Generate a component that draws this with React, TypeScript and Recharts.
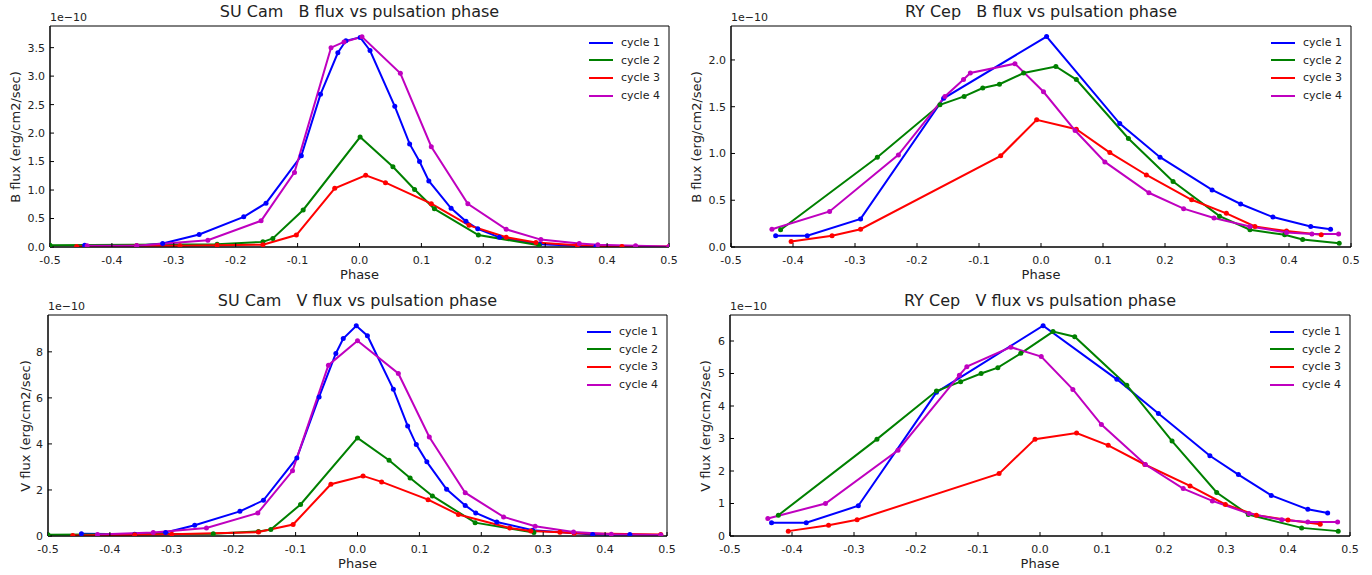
import { LineChart, Line, XAxis, YAxis, ReferenceArea } from 'recharts';

type Pt = [number, number];

const cycleNames = ['cycle 1', 'cycle 2', 'cycle 3', 'cycle 4'];
const cycleColors = ['#0000ff', '#008000', '#ff0000', '#bf00bf'];
const phaseTicks = [-0.5, -0.4, -0.3, -0.2, -0.1, 0, 0.1, 0.2, 0.3, 0.4, 0.5];

// flux values in units of 1e-10 erg/cm2/sec, [phase, flux]
const suCamB1: Pt[] = [[-0.444, 0.03], [-0.36, 0.02], [-0.318, 0.06], [-0.259, 0.22], [-0.187, 0.53], [-0.151, 0.77], [-0.094, 1.6], [-0.063, 2.68], [-0.035, 3.41], [-0.022, 3.62], [0.001, 3.68], [0.017, 3.45], [0.057, 2.47], [0.081, 1.81], [0.097, 1.5], [0.112, 1.16], [0.148, 0.68], [0.172, 0.45], [0.191, 0.32], [0.226, 0.17], [0.291, 0.05], [0.382, 0.01]];
const suCamB2: Pt[] = [[-0.5, 0.03], [-0.23, 0.05], [-0.156, 0.09], [-0.14, 0.15], [-0.091, 0.65], [0.001, 1.93], [0.054, 1.41], [0.089, 1.01], [0.121, 0.67], [0.192, 0.21], [0.29, 0.03]];
const suCamB3: Pt[] = [[-0.457, 0.01], [-0.36, 0.02], [-0.29, 0.02], [-0.23, 0.03], [-0.156, 0.04], [-0.102, 0.21], [-0.04, 1.03], [0.01, 1.26], [0.042, 1.13], [0.116, 0.76], [0.177, 0.38], [0.237, 0.17], [0.285, 0.08], [0.352, 0.03], [0.424, 0.01], [0.5, 0.01]];
const suCamB4: Pt[] = [[-0.44, 0.02], [-0.36, 0.02], [-0.245, 0.12], [-0.159, 0.46], [-0.105, 1.31], [-0.046, 3.5], [-0.025, 3.6], [0.004, 3.69], [0.066, 3.05], [0.116, 1.76], [0.175, 0.76], [0.237, 0.31], [0.293, 0.13], [0.355, 0.06], [0.385, 0.04], [0.446, 0.02], [0.5, 0.01]];

const ryCepB1: Pt[] = [[-0.428, 0.12], [-0.377, 0.12], [-0.291, 0.3], [-0.157, 1.59], [0.009, 2.25], [0.127, 1.32], [0.192, 0.96], [0.276, 0.61], [0.322, 0.46], [0.374, 0.32], [0.435, 0.22], [0.467, 0.19]];
const ryCepB2: Pt[] = [[-0.42, 0.185], [-0.264, 0.96], [-0.163, 1.52], [-0.124, 1.61], [-0.094, 1.7], [-0.067, 1.74], [-0.028, 1.86], [0.024, 1.93], [0.057, 1.79], [0.141, 1.16], [0.213, 0.7], [0.288, 0.33], [0.337, 0.185], [0.393, 0.13], [0.422, 0.08], [0.481, 0.04]];
const ryCepB3: Pt[] = [[-0.403, 0.06], [-0.337, 0.12], [-0.291, 0.19], [-0.065, 0.975], [-0.007, 1.36], [0.057, 1.26], [0.111, 1.01], [0.17, 0.77], [0.243, 0.505], [0.299, 0.36], [0.345, 0.22], [0.396, 0.17], [0.452, 0.13]];
const ryCepB4: Pt[] = [[-0.434, 0.19], [-0.341, 0.38], [-0.23, 0.985], [-0.155, 1.61], [-0.125, 1.79], [-0.114, 1.86], [-0.042, 1.96], [0.004, 1.66], [0.055, 1.245], [0.103, 0.91], [0.174, 0.58], [0.23, 0.41], [0.279, 0.31], [0.337, 0.22], [0.396, 0.155], [0.437, 0.14], [0.48, 0.14]];

const suCamV1: Pt[] = [[-0.446, 0.1], [-0.36, 0.08], [-0.31, 0.15], [-0.263, 0.47], [-0.19, 1.07], [-0.152, 1.55], [-0.098, 3.39], [-0.062, 6.04], [-0.035, 7.93], [-0.023, 8.58], [-0.002, 9.13], [0.016, 8.7], [0.058, 6.37], [0.081, 4.78], [0.095, 3.97], [0.112, 3.22], [0.144, 2.03], [0.174, 1.33], [0.191, 1.0], [0.225, 0.61], [0.283, 0.25], [0.38, 0.07], [0.44, 0.06]];
const suCamV2: Pt[] = [[-0.5, 0.05], [-0.233, 0.1], [-0.16, 0.2], [-0.14, 0.28], [-0.092, 1.37], [0.0, 4.26], [0.051, 3.29], [0.085, 2.52], [0.121, 1.74], [0.19, 0.58], [0.285, 0.15]];
const suCamV3: Pt[] = [[-0.46, 0.02], [-0.36, 0.05], [-0.3, 0.08], [-0.16, 0.17], [-0.104, 0.5], [-0.043, 2.25], [0.009, 2.61], [0.039, 2.35], [0.114, 1.58], [0.163, 0.93], [0.246, 0.35], [0.28, 0.22], [0.327, 0.16], [0.35, 0.12], [0.49, 0.06]];
const suCamV4: Pt[] = [[-0.42, 0.07], [-0.33, 0.15], [-0.244, 0.35], [-0.161, 1.0], [-0.105, 2.83], [-0.047, 7.42], [0.0, 8.48], [0.066, 7.06], [0.116, 4.3], [0.174, 1.88], [0.236, 0.83], [0.287, 0.42], [0.349, 0.17], [0.41, 0.08], [0.49, 0.04]];

const ryCepV1: Pt[] = [[-0.433, 0.41], [-0.377, 0.41], [-0.293, 0.93], [-0.167, 4.42], [0.005, 6.47], [0.124, 4.82], [0.191, 3.77], [0.274, 2.47], [0.32, 1.89], [0.373, 1.25], [0.432, 0.82], [0.464, 0.71]];
const ryCepV2: Pt[] = [[-0.422, 0.64], [-0.263, 2.98], [-0.167, 4.46], [-0.128, 4.75], [-0.095, 5.0], [-0.068, 5.18], [-0.031, 5.62], [0.021, 6.29], [0.056, 6.13], [0.14, 4.64], [0.213, 2.92], [0.285, 1.34], [0.336, 0.66], [0.422, 0.25], [0.481, 0.15]];
const ryCepV3: Pt[] = [[-0.406, 0.15], [-0.341, 0.33], [-0.295, 0.5], [-0.066, 1.92], [-0.008, 2.98], [0.059, 3.17], [0.11, 2.79], [0.169, 2.2], [0.242, 1.54], [0.299, 0.97], [0.349, 0.64], [0.4, 0.49], [0.452, 0.36]];
const ryCepV4: Pt[] = [[-0.439, 0.54], [-0.346, 1.0], [-0.229, 2.64], [-0.13, 4.95], [-0.118, 5.21], [-0.047, 5.81], [0.002, 5.52], [0.053, 4.51], [0.099, 3.43], [0.17, 2.2], [0.231, 1.46], [0.278, 1.08], [0.337, 0.69], [0.39, 0.5], [0.432, 0.43], [0.48, 0.43]];

const bTicksSu = [0, 0.5, 1, 1.5, 2, 2.5, 3, 3.5];
const bTicksRy = [0, 0.5, 1, 1.5, 2];
const vTicksSu = [0, 2, 4, 6, 8];
const vTicksRy = [0, 1, 2, 3, 4, 5, 6];

const FONT = '"DejaVu Sans", sans-serif';
const TEXT = '#222';

interface PanelProps {
  left: number;
  top: number;
  width: number;
  height: number;
  title: string;
  yLabel: string;
  yLabelX: number;
  yMax: number;
  yTicks: number[];
  digits: number;
  series: Pt[][];
}

const AXIS_W = 60;

const Panel = ({ left, top, width, height, title, yLabel, yLabelX, yMax, yTicks, digits, series }: PanelProps) => {
  return (
    <>
      <div
        style={{
          position: 'absolute', left, top: top - 24, width, textAlign: 'center',
          fontSize: 16, lineHeight: '20px', whiteSpace: 'pre', color: TEXT,
        }}
      >
        {title}
      </div>
      <div style={{ position: 'absolute', left, top: top - 15, fontSize: 11, lineHeight: '13px', color: TEXT }}>
        1e−10
      </div>
      <div
        style={{
          position: 'absolute', left: yLabelX - 100, top: top + height / 2 - 8, width: 200, height: 16,
          textAlign: 'center', fontSize: 13, lineHeight: '16px', color: TEXT, transform: 'rotate(-90deg)',
        }}
      >
        {yLabel}
      </div>
      <div
        style={{
          position: 'absolute', left, top: top + height + 20, width, textAlign: 'center',
          fontSize: 13, lineHeight: '16px', color: TEXT,
        }}
      >
        Phase
      </div>
      <div style={{ position: 'absolute', left: left - AXIS_W, top: top - 2 }}>
        <LineChart
          width={width + AXIS_W + 14}
          height={height + 32}
          margin={{ top: 2, right: 14, left: 0, bottom: 0 }}
        >
          <XAxis
            type="number"
            dataKey="x"
            domain={[-0.5, 0.5]}
            ticks={phaseTicks}
            interval={0}
            allowDataOverflow
            tickFormatter={(v: number) => v.toFixed(1)}
            tickSize={-4}
            tickMargin={13}
            height={30}
            stroke="#000"
            tick={{ fontSize: 11, fill: TEXT, fontFamily: FONT }}
          />
          <YAxis
            type="number"
            domain={[0, yMax]}
            ticks={yTicks}
            interval={0}
            allowDataOverflow
            tickFormatter={(v: number) => v.toFixed(digits)}
            tickSize={-4}
            tickMargin={9}
            width={AXIS_W}
            stroke="#000"
            tick={{ fontSize: 11, fill: TEXT, fontFamily: FONT }}
          />
          <ReferenceArea x1={-0.5} x2={0.5} y1={0} y2={yMax} stroke="#000" strokeWidth={1} fill="none" fillOpacity={0} />
          {series.map((s, i) => (
            <Line
              key={cycleNames[i]}
              name={cycleNames[i]}
              data={s.map(([x, y]) => ({ x, y }))}
              dataKey="y"
              type="linear"
              stroke={cycleColors[i]}
              strokeWidth={2}
              dot={{ r: 2.5, fill: cycleColors[i], stroke: cycleColors[i], strokeWidth: 0 }}
              activeDot={false}
              isAnimationActive={false}
            />
          ))}
        </LineChart>
      </div>
      <div style={{ position: 'absolute', left: left + width - 80, top: top + 8 }}>
        {cycleNames.map((n, i) => (
          <div key={n} style={{ display: 'flex', alignItems: 'center', height: 17.6 }}>
            <div style={{ width: 24, height: 2, background: cycleColors[i], marginRight: 8 }} />
            <span style={{ fontSize: 11, color: TEXT }}>{n}</span>
          </div>
        ))}
      </div>
    </>
  );
};

const App = () => {
  return (
    <div style={{ position: 'absolute', left: 0, top: 0, width: 1372, height: 575, background: '#fff', fontFamily: FONT }}>
      <Panel left={50} top={26} width={619} height={221} title="SU Cam   B flux vs pulsation phase"
        yLabel="B flux (erg/cm2/sec)" yLabelX={16} yMax={3.88} yTicks={bTicksSu} digits={1}
        series={[suCamB1, suCamB2, suCamB3, suCamB4]} />
      <Panel left={731} top={26} width={620} height={221} title="RY Cep   B flux vs pulsation phase"
        yLabel="B flux (erg/cm2/sec)" yLabelX={697} yMax={2.363} yTicks={bTicksRy} digits={1}
        series={[ryCepB1, ryCepB2, ryCepB3, ryCepB4]} />
      <Panel left={48} top={315} width={619} height={221} title="SU Cam   V flux vs pulsation phase"
        yLabel="V flux (erg/cm2/sec)" yLabelX={26} yMax={9.6} yTicks={vTicksSu} digits={0}
        series={[suCamV1, suCamV2, suCamV3, suCamV4]} />
      <Panel left={730} top={315} width={620} height={221} title="RY Cep   V flux vs pulsation phase"
        yLabel="V flux (erg/cm2/sec)" yLabelX={706} yMax={6.8} yTicks={vTicksRy} digits={0}
        series={[ryCepV1, ryCepV2, ryCepV3, ryCepV4]} />
    </div>
  );
};

export default App;
